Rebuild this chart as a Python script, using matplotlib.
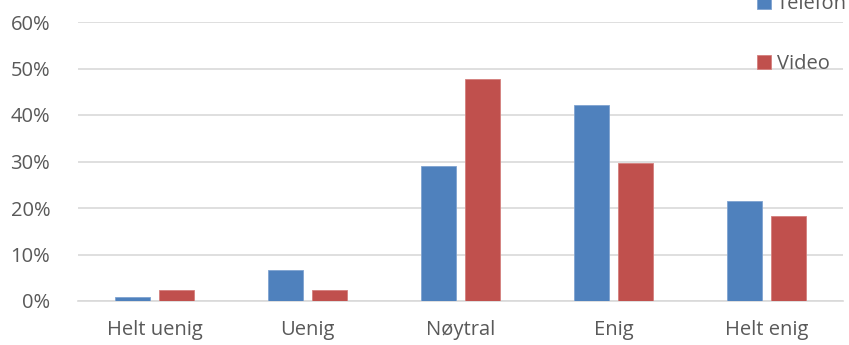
import numpy as np
import matplotlib
matplotlib.use('Agg')
from matplotlib import pyplot as plt
from matplotlib.ticker import PercentFormatter

# Data.
categories = ['Helt uenig', 'Uenig', 'Nøytral', 'Enig', 'Helt enig']
telefon = [0.009, 0.066, 0.290, 0.421, 0.215]
video = [0.024, 0.024, 0.477, 0.296, 0.183]
series_names = ['Telefon', 'Video']

BLUE = '#4F81BD'
RED = '#C0504D'
TEXT = '#595959'
GRID = '#D9D9D9'
FS = 14.5

plt.rcParams['font.family'] = ['Open Sans', 'DejaVu Sans']

fig = plt.figure(figsize=(8.49, 3.45), dpi=100)
ax = fig.add_axes([78 / 849, 44 / 345, 765 / 849, 279 / 345])

x = np.arange(len(categories))
width = 0.225
gap = 0.06
b1 = ax.bar(x - (width + gap) / 2, telefon, width, color=BLUE,
            edgecolor='#7FA3D0', linewidth=0.6, label=series_names[0], zorder=3)
b2 = ax.bar(x + (width + gap) / 2, video, width, color=RED,
            edgecolor='#D47F7D', linewidth=0.6, label=series_names[1], zorder=3)

ax.set_xlim(-0.5, len(categories) - 0.5)
ax.set_ylim(0, 0.6)
ax.set_yticks(np.arange(0, 0.61, 0.1))
ax.yaxis.set_major_formatter(PercentFormatter(1.0, decimals=0))
ax.set_xticks(x)
ax.set_xticklabels(categories)

ax.grid(axis='y', color=GRID, linewidth=1.2, zorder=0)
for s in ['top', 'right', 'left']:
    ax.spines[s].set_visible(False)
ax.spines['bottom'].set_color(GRID)
ax.spines['bottom'].set_linewidth(1.2)
ax.tick_params(axis='both', length=0, colors=TEXT, labelsize=FS)
ax.tick_params(axis='y', pad=20)
ax.tick_params(axis='x', pad=14)

# Legend sits partly above the figure edge, as in the original.
fig.legend(handles=[b1, b2], loc='upper left',
           bbox_to_anchor=(747 / 849, (345 + 16) / 345),
           frameon=False, fontsize=FS, labelcolor=TEXT,
           handlelength=0.7, handleheight=0.7, handletextpad=0.3,
           labelspacing=2.0, borderpad=0)

fig.savefig('out.png', dpi=100)
